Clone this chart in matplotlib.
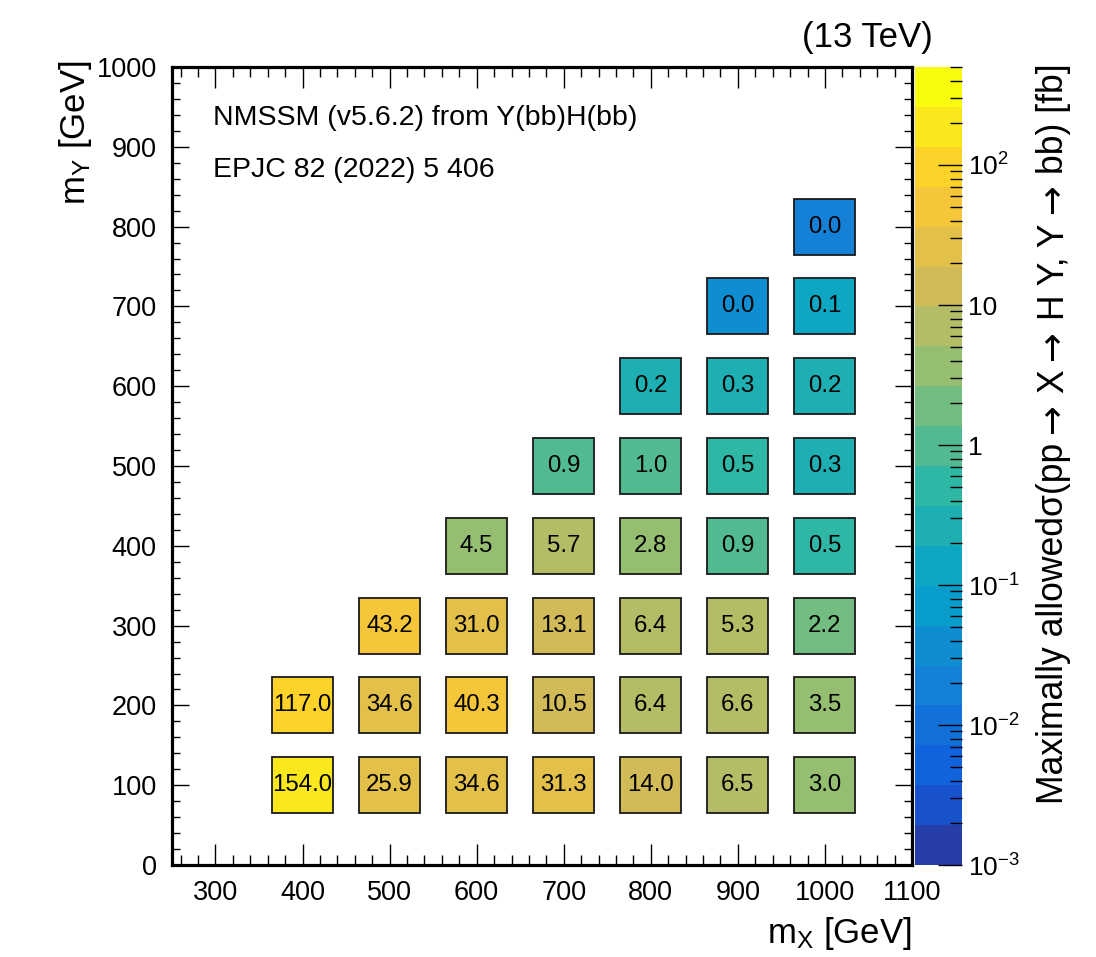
import numpy as np
import matplotlib
matplotlib.use("Agg")
import matplotlib.pyplot as plt
from matplotlib.colors import LinearSegmentedColormap, ListedColormap, LogNorm
from matplotlib.patches import Rectangle
from matplotlib.ticker import MultipleLocator, LogLocator, FixedLocator, NullFormatter
import matplotlib.colorbar as mcolorbar

plt.rcParams['font.family'] = ['Liberation Sans', 'DejaVu Sans']
plt.rcParams['mathtext.fontset'] = 'custom'
plt.rcParams['mathtext.rm'] = 'Liberation Sans'
plt.rcParams['mathtext.it'] = 'Liberation Sans'
plt.rcParams['mathtext.default'] = 'regular'

# ---- data ----
mx = [400, 500, 600, 700, 800, 900, 1000,
      400, 500, 600, 700, 800, 900, 1000,
      500, 600, 700, 800, 900, 1000,
      600, 700, 800, 900, 1000,
      700, 800, 900, 1000,
      800, 900, 1000,
      900, 1000,
      1000]
my = [100] * 7 + [200] * 7 + [300] * 6 + [400] * 5 + [500] * 4 + [600] * 3 + [700] * 2 + [800]
sigma = [154.0, 25.9, 34.6, 31.3, 14.0, 6.5, 3.0,
         117.0, 34.6, 40.3, 10.5, 6.4, 6.6, 3.5,
         43.2, 31.0, 13.1, 6.4, 5.3, 2.2,
         4.5, 5.7, 2.8, 0.9, 0.5,
         0.9, 1.0, 0.5, 0.3,
         0.2, 0.3, 0.2,
         0.04, 0.1,
         0.015]
x_ticks = [300, 400, 500, 600, 700, 800, 900, 1000, 1100]
y_ticks = [0, 100, 200, 300, 400, 500, 600, 700, 800, 900, 1000]
z_ticks = [1e-3, 1e-2, 1e-1, 1, 10, 100]
z_tick_labels = [r'$10^{-3}$', r'$10^{-2}$', r'$10^{-1}$', '1', '10', r'$10^{2}$']
z_min, z_max = 1e-3, 10 ** 2.7
n_contours = 20
z_title_parts = ['Maximally allowedσ(pp', '→', 'X', '→', 'H Y, Y', '→', 'bb) [fb]']

# ROOT kBird palette (255 colours), sampled the way ROOT picks contour colours
stops = [0.0, 0.125, 0.25, 0.375, 0.5, 0.625, 0.75, 0.875, 1.0]
red = [0.2082, 0.0592, 0.0780, 0.0232, 0.1802, 0.5301, 0.8186, 0.9956, 0.9764]
green = [0.1664, 0.3599, 0.5041, 0.6419, 0.7178, 0.7492, 0.7328, 0.7862, 0.9832]
blue = [0.5293, 0.8684, 0.8385, 0.7914, 0.6425, 0.4662, 0.3499, 0.1968, 0.0539]
base = LinearSegmentedColormap.from_list('kBird', list(zip(stops, zip(red, green, blue))), N=255)
band_colors = [base(int((i + 0.99) * 255 / n_contours) / 254) for i in range(n_contours)]
cmap = ListedColormap(band_colors)
norm = LogNorm(vmin=z_min, vmax=z_max)

W, H = 1096, 957
fig = plt.figure(figsize=(W / 100, H / 100), dpi=100)
ax = fig.add_axes([0.1569, 0.0961, 0.6752, 0.8339])
ax.set_xlim(250, 1100)
ax.set_ylim(0, 1000)

bw, bh = 70, 70
for x, y, v in zip(mx, my, sigma):
    ax.add_patch(Rectangle((x - bw / 2, y - bh / 2), bw, bh,
                           facecolor=cmap(norm(v)), edgecolor='#1a1a1a', lw=1.3, zorder=2))
    ax.text(x, y, f"{v:.1f}", ha='center', va='center', fontsize=17.3, color='black', zorder=3)

for s in ax.spines.values():
    s.set_linewidth(2.3)
ax.xaxis.set_major_locator(FixedLocator(x_ticks))
ax.xaxis.set_minor_locator(MultipleLocator(20))
ax.yaxis.set_major_locator(FixedLocator(y_ticks))
ax.yaxis.set_minor_locator(MultipleLocator(20))
ax.tick_params(which='both', direction='in', top=True, right=True, width=1.0, labelsize=19.5)
ax.tick_params(axis='x', which='major', length=15, pad=11)
ax.tick_params(axis='x', which='minor', length=7.2)
ax.tick_params(axis='y', which='major', length=12, pad=11)
ax.tick_params(axis='y', which='minor', length=6)

fig.text(912 / W, 1 - 943 / H, r'$\mathregular{m_{X}}$ [GeV]', fontsize=25,
         ha='right', va='baseline')
fig.text(75 / W, 1 - 60 / H, r'$\mathregular{m_{Y}}$ [GeV]', fontsize=25,
         ha='center', va='top', rotation=90)

ax.text(0.0554, 0.9273, 'NMSSM (v5.6.2) from Y(bb)H(bb)', transform=ax.transAxes,
        fontsize=20.5, ha='left', va='baseline')
ax.text(0.0554, 0.8622, 'EPJC 82 (2022) 5 406', transform=ax.transAxes,
        fontsize=20.5, ha='left', va='baseline')
fig.text(933 / W, 1 - 47 / H, '(13 TeV)', fontsize=25, ha='right', va='baseline')

# colorbar
cax = fig.add_axes([0.8349, 0.0961, 0.0429, 0.8339])
cb = mcolorbar.ColorbarBase(cax, cmap=cmap, norm=norm, orientation='vertical')
cb.outline.set_visible(False)
cax.yaxis.set_ticks_position('right')
cax.yaxis.set_major_locator(FixedLocator(z_ticks))
cax.yaxis.set_minor_locator(LogLocator(base=10, subs=np.arange(2, 10)))
cax.yaxis.set_minor_formatter(NullFormatter())
cax.set_yticklabels(z_tick_labels)
cax.tick_params(which='both', direction='in', width=1.0, labelsize=19, pad=4)
cax.tick_params(which='major', length=17)
cax.tick_params(which='minor', length=8.5)

# colorbar title, assembled from pieces so the arrows come from DejaVu Sans
renderer = fig.canvas.get_renderer()
title_fs = 25.6
space_px = 0.278 * title_fs * 100 / 72
baseline_x = 1063 / W
texts = []
for part in z_title_parts:
    fam = ['DejaVu Sans'] if part == '→' else ['Liberation Sans']
    t = fig.text(baseline_x, 0.5, part, rotation=90, rotation_mode='anchor',
                 ha='left', va='baseline', fontsize=title_fs, family=fam)
    texts.append(t)
lengths = [t.get_window_extent(renderer).height for t in texts]
total = sum(lengths) + space_px * (len(texts) - 1)
center_px = H - 433.5
y_px = center_px - total / 2
for t, L in zip(texts, lengths):
    t.set_position((baseline_x, y_px / H))
    y_px += L + space_px

fig.savefig('out.png', dpi=100)
